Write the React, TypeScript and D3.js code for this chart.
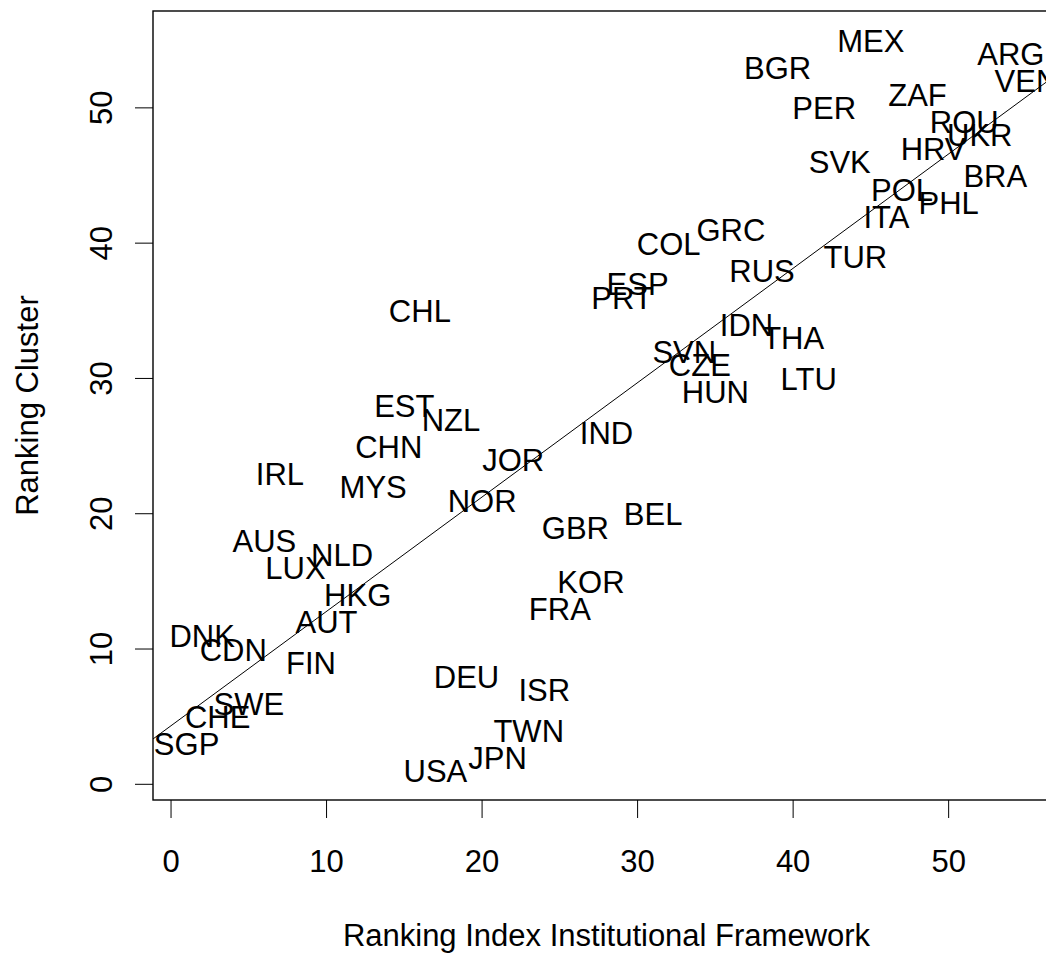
import React from "react";
import * as d3 from "d3";

const W = 1046;
const H = 953;

// country codes, ranking on the institutional framework index (x) and cluster ranking (y)
const countries = [
  "MEX", "ARG", "BGR", "VEN", "ZAF", "PER", "ROU", "UKR", "HRV", "SVK", "BRA",
  "POL", "PHL", "ITA", "GRC", "COL", "TUR", "RUS", "ESP", "PRT", "CHL", "IDN",
  "THA", "SVN", "CZE", "LTU", "HUN", "EST", "NZL", "IND", "CHN", "JOR", "IRL",
  "MYS", "NOR", "BEL", "GBR", "AUS", "NLD", "LUX", "KOR", "HKG", "FRA", "AUT",
  "DNK", "CDN", "FIN", "DEU", "ISR", "SWE", "CHE", "TWN", "SGP", "JPN", "USA",
];
const rankIndex = [
  45, 54, 39, 55, 48, 42, 51, 52, 49, 43, 53,
  47, 50, 46, 36, 32, 44, 38, 30, 29, 16, 37,
  40, 33, 34, 41, 35, 15, 18, 28, 14, 22, 7,
  13, 20, 31, 26, 6, 11, 8, 27, 12, 25, 10,
  2, 4, 9, 19, 24, 5, 3, 23, 1, 21, 17,
];
const rankCluster = [
  55, 54, 53, 52, 51, 50, 49, 48, 47, 46, 45,
  44, 43, 42, 41, 40, 39, 38, 37, 36, 35, 34,
  33, 32, 31, 30, 29, 28, 27, 26, 25, 24, 23,
  22, 21, 20, 19, 18, 17, 16, 15, 14, 13, 12,
  11, 10, 9, 8, 7, 6, 5, 4, 3, 2, 1,
];
const xTicks = [0, 10, 20, 30, 40, 50];
const yTicks = [0, 10, 20, 30, 40, 50];

const xTitle = "Ranking Index Institutional Framework";
const yTitle = "Ranking Cluster";

const box = { left: 153, top: 11, right: 1060, bottom: 800 };
const font = "'Liberation Sans', Arial, sans-serif";
const fs = 31;

// R style axis range: data range padded by 4% each side
function rRange(v: number[]) {
  const [lo, hi] = d3.extent(v) as [number, number];
  const pad = (hi - lo) * 0.04;
  return [lo - pad, hi + pad];
}

export default function App() {
  const x = d3.scaleLinear().domain(rRange(rankIndex)).range([box.left, box.right]);
  const y = d3.scaleLinear().domain(rRange(rankCluster)).range([box.bottom, box.top]);

  // least squares line y ~ x
  const mx = d3.mean(rankIndex) as number;
  const my = d3.mean(rankCluster) as number;
  let sxy = 0, sxx = 0;
  rankIndex.forEach((v, i) => {
    sxy += (v - mx) * (rankCluster[i] - my);
    sxx += (v - mx) * (v - mx);
  });
  const slope = sxy / sxx;
  const icpt = my - slope * mx;
  const [x0, x1] = x.domain();
  const line = d3.line<number>()
    .x(d => x(d))
    .y(d => y(icpt + slope * d));

  return (
    <svg width={W} height={H} style={{ position: "absolute", left: 0, top: 0, background: "#fff" }}
      fontFamily={font}>
      <defs>
        <clipPath id="plotclip">
          <rect x={box.left} y={box.top} width={box.right - box.left} height={box.bottom - box.top} />
        </clipPath>
      </defs>

      <g clipPath="url(#plotclip)">
        <path d={line([x0, x1]) || ""} fill="none" stroke="#000" strokeWidth={1} />
        {countries.map((c, i) => (
          <text key={c} x={x(rankIndex[i])} y={y(rankCluster[i]) + 11.5}
            textAnchor="middle" fontSize={fs} fill="#000">{c}</text>
        ))}
      </g>

      <rect x={box.left} y={box.top} width={box.right - box.left} height={box.bottom - box.top}
        fill="none" stroke="#000" strokeWidth={1.4} />

      {xTicks.map(t => (
        <g key={"x" + t}>
          <line x1={x(t)} x2={x(t)} y1={box.bottom} y2={box.bottom + 18} stroke="#000" strokeWidth={1} />
          <text x={x(t)} y={872} textAnchor="middle" fontSize={fs}>{t}</text>
        </g>
      ))}
      {yTicks.map(t => (
        <g key={"y" + t}>
          <line x1={box.left - 18} x2={box.left} y1={y(t)} y2={y(t)} stroke="#000" strokeWidth={1} />
          <text transform={`translate(112,${y(t)}) rotate(-90)`} textAnchor="middle" fontSize={fs}>{t}</text>
        </g>
      ))}

      <text x={(box.left + box.right) / 2} y={946} textAnchor="middle" fontSize={fs}>{xTitle}</text>
      <text transform={`translate(38,${(box.top + box.bottom) / 2}) rotate(-90)`} textAnchor="middle"
        fontSize={fs}>{yTitle}</text>
    </svg>
  );
}
